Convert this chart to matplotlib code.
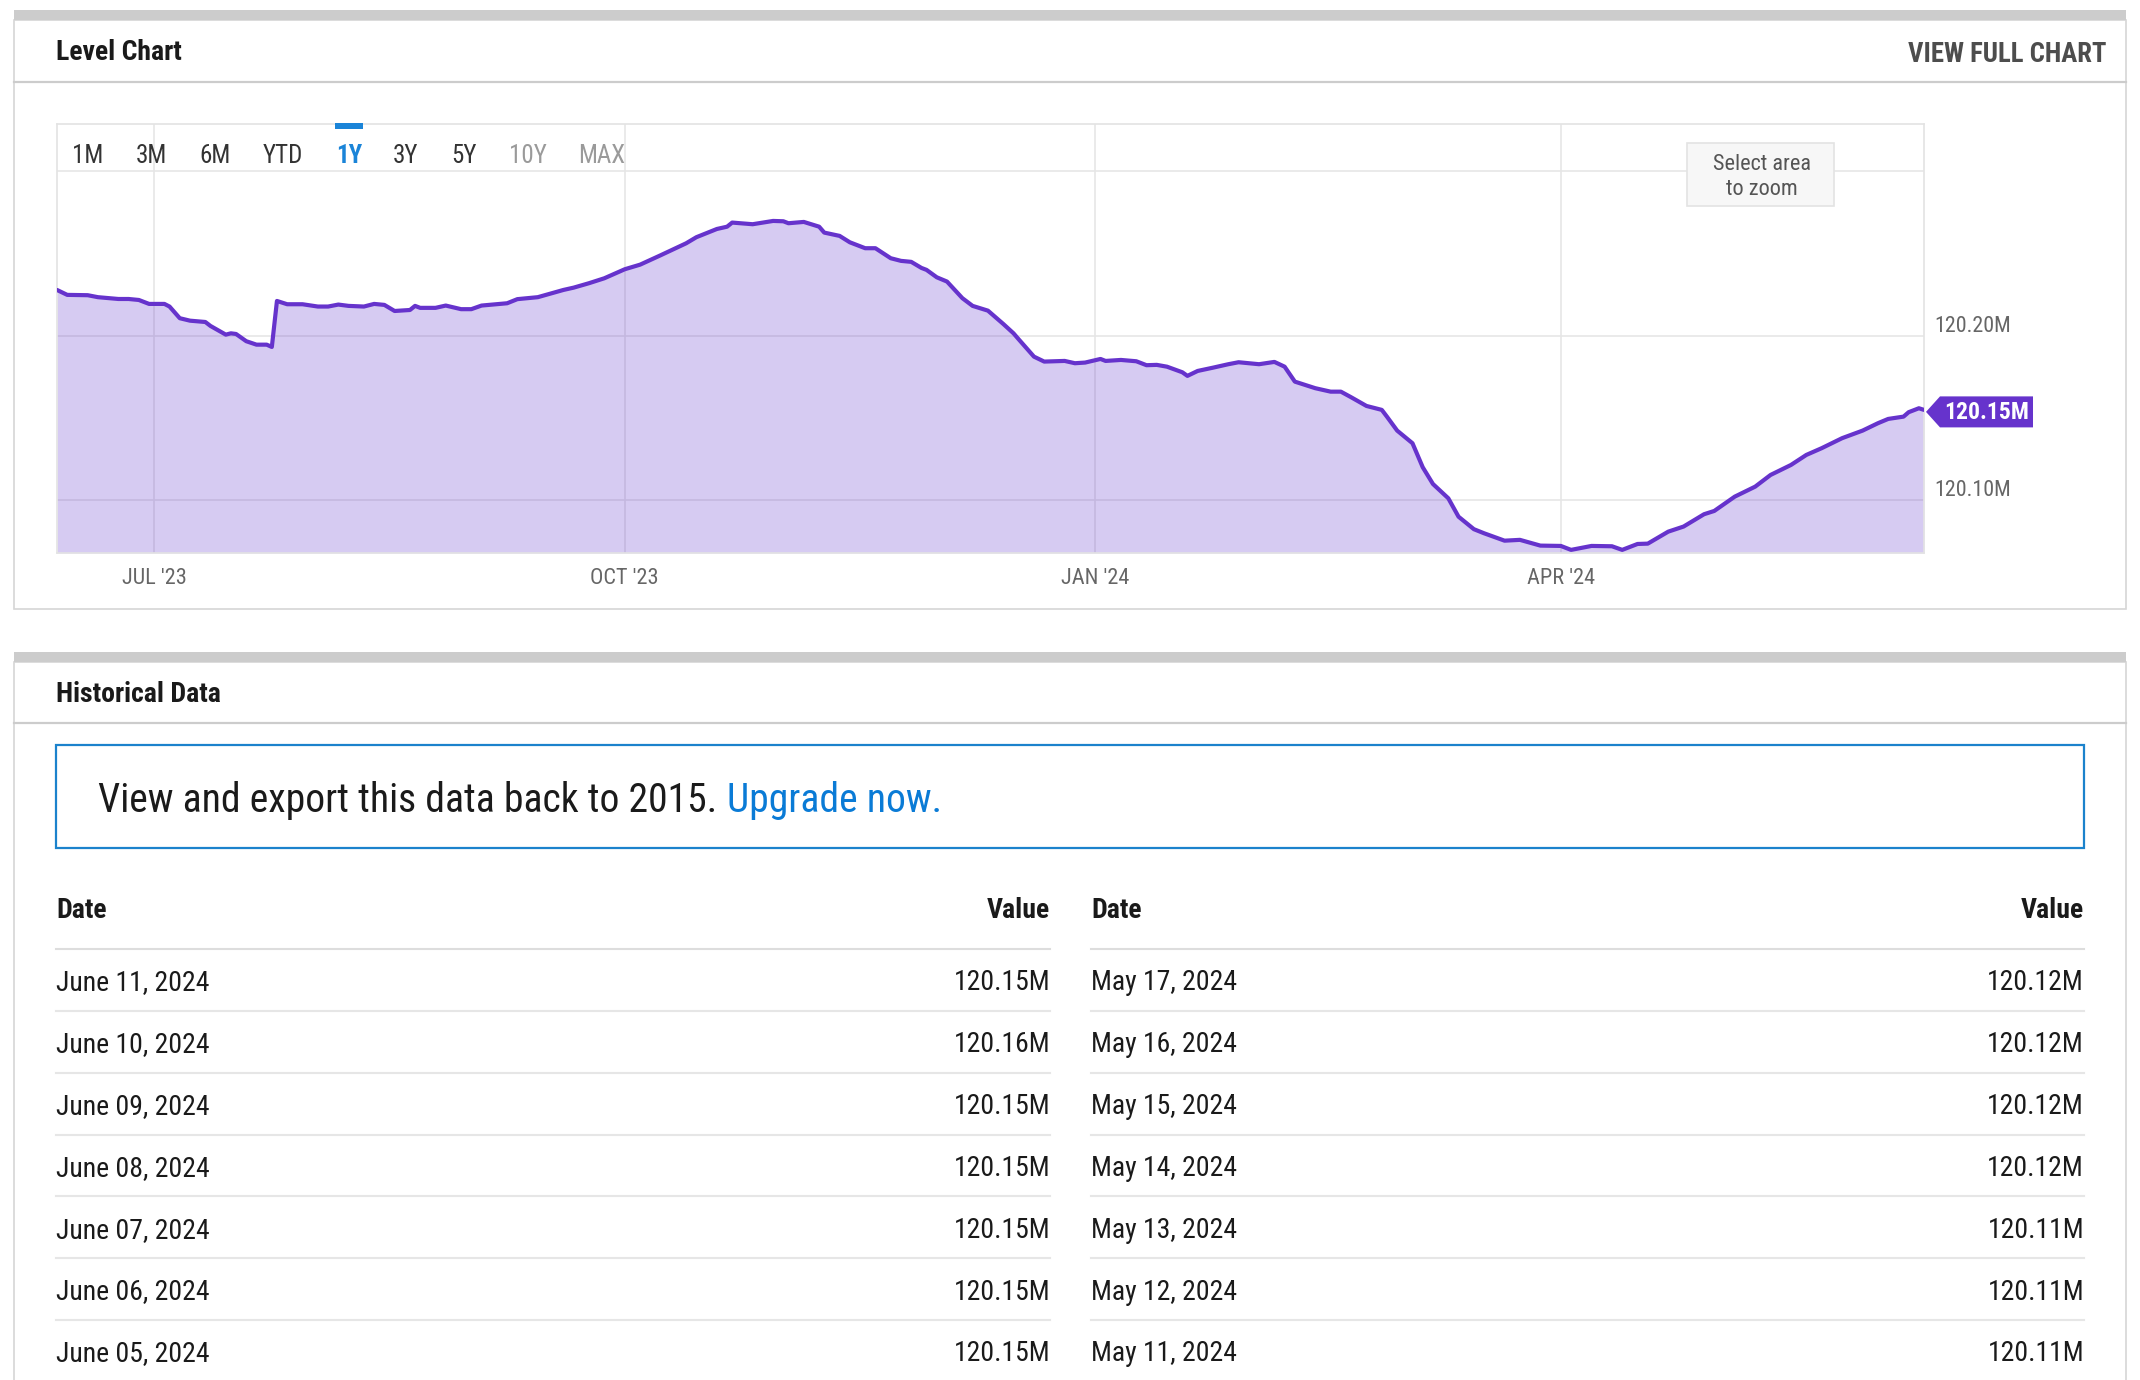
import matplotlib
matplotlib.use('Agg')
import matplotlib.pyplot as plt
import matplotlib.dates as mdates
from matplotlib import font_manager, transforms
from matplotlib.patches import Rectangle, Polygon
import pandas as pd

# level chart data (millions)
level_dates = [
    '2023-06-12', '2023-06-14', '2023-06-18', '2023-06-20', '2023-06-24', '2023-06-26', '2023-06-28', '2023-06-30',
    '2023-07-03', '2023-07-04', '2023-07-06', '2023-07-08', '2023-07-11', '2023-07-12', '2023-07-15', '2023-07-16',
    '2023-07-17', '2023-07-19', '2023-07-21', '2023-07-23', '2023-07-24', '2023-07-25', '2023-07-27', '2023-07-30',
    '2023-08-02', '2023-08-04', '2023-08-06', '2023-08-08', '2023-08-11', '2023-08-13', '2023-08-15', '2023-08-17',
    '2023-08-20', '2023-08-21', '2023-08-22', '2023-08-25', '2023-08-27', '2023-08-30',
    '2023-09-01', '2023-09-03', '2023-09-08', '2023-09-10', '2023-09-14', '2023-09-19', '2023-09-21', '2023-09-24',
    '2023-09-27',
    '2023-10-01', '2023-10-04', '2023-10-08', '2023-10-13', '2023-10-15', '2023-10-19', '2023-10-21', '2023-10-22',
    '2023-10-26', '2023-10-30',
    '2023-11-01', '2023-11-02', '2023-11-05', '2023-11-08', '2023-11-09', '2023-11-12', '2023-11-14', '2023-11-17',
    '2023-11-19', '2023-11-22', '2023-11-24', '2023-11-26', '2023-11-28', '2023-11-29',
    '2023-12-01', '2023-12-03', '2023-12-06', '2023-12-08', '2023-12-11', '2023-12-14', '2023-12-16', '2023-12-17',
    '2023-12-20', '2023-12-22', '2023-12-26', '2023-12-28', '2023-12-30',
    '2024-01-02', '2024-01-03', '2024-01-06', '2024-01-09', '2024-01-11', '2024-01-13', '2024-01-15', '2024-01-18',
    '2024-01-19', '2024-01-21', '2024-01-24', '2024-01-27', '2024-01-29',
    '2024-02-02', '2024-02-05', '2024-02-07', '2024-02-09', '2024-02-13', '2024-02-16', '2024-02-18', '2024-02-20',
    '2024-02-23', '2024-02-26', '2024-02-27', '2024-02-29',
    '2024-03-03', '2024-03-05', '2024-03-07', '2024-03-10', '2024-03-12', '2024-03-15', '2024-03-17', '2024-03-21',
    '2024-03-24', '2024-03-28',
    '2024-04-01', '2024-04-03', '2024-04-07', '2024-04-11', '2024-04-13', '2024-04-16', '2024-04-18', '2024-04-22',
    '2024-04-25', '2024-04-29',
    '2024-05-01', '2024-05-05', '2024-05-09', '2024-05-12', '2024-05-16', '2024-05-19', '2024-05-22', '2024-05-26',
    '2024-05-30',
    '2024-06-02', '2024-06-04', '2024-06-07', '2024-06-08', '2024-06-10', '2024-06-11',
]
level_vals = [
    120.2278, 120.2248, 120.2246, 120.2234, 120.2223, 120.2223, 120.2217, 120.2193,
    120.2193, 120.2177, 120.2106, 120.2091, 120.2083, 120.2059, 120.2006, 120.2014,
    120.2010, 120.1966, 120.1945, 120.1945, 120.1931, 120.2211, 120.2191, 120.2191,
    120.2177, 120.2177, 120.2189, 120.2181, 120.2177, 120.2193, 120.2187, 120.2150,
    120.2156, 120.2181, 120.2169, 120.2169, 120.2183, 120.2161,
    120.2161, 120.2183, 120.2197, 120.2222, 120.2234, 120.2278, 120.2292, 120.2319,
    120.2349,
    120.2404, 120.2432, 120.2489, 120.2562, 120.2599, 120.2649, 120.2663, 120.2688,
    120.2678, 120.2698,
    120.2696, 120.2684, 120.2692, 120.2663, 120.2627, 120.2607, 120.2568, 120.2532,
    120.2532, 120.2471, 120.2455, 120.2449, 120.2412, 120.2400,
    120.2355, 120.2329, 120.2228, 120.2181, 120.2152, 120.2071, 120.2014, 120.1978,
    120.1872, 120.1842, 120.1846, 120.1832, 120.1836,
    120.1858, 120.1846, 120.1852, 120.1844, 120.1820, 120.1822, 120.1811, 120.1777,
    120.1755, 120.1785, 120.1805, 120.1826, 120.1838,
    120.1826, 120.1840, 120.1811, 120.1720, 120.1680, 120.1659, 120.1659, 120.1625,
    120.1572, 120.1548, 120.1507, 120.1422,
    120.1345, 120.1199, 120.1097, 120.1010, 120.0898, 120.0822, 120.0797, 120.0752,
    120.0757, 120.0722,
    120.0720, 120.0696, 120.0720, 120.0718, 120.0696, 120.0732, 120.0734, 120.0807,
    120.0838, 120.0913,
    120.0933, 120.1020, 120.1081, 120.1152, 120.1213, 120.1274, 120.1315, 120.1376,
    120.1422,
    120.1467, 120.1493, 120.1507, 120.1534, 120.1558, 120.1548,
]

month_ticks = ['2023-07-01', '2023-10-01', '2024-01-01', '2024-04-01']
month_labels = ["JUL '23", "OCT '23", "JAN '24", "APR '24"]
grid_vals = [120.10, 120.20, 120.30]
axis_vals = [120.10, 120.20]
axis_labels = ['120.10M', '120.20M']

range_labels = ['1M', '3M', '6M', 'YTD', '1Y', '3Y', '5Y', '10Y', 'MAX']
active_range = '1Y'
disabled_ranges = ['10Y', 'MAX']

# historical table
left_dates = ['June 11, 2024', 'June 10, 2024', 'June 09, 2024', 'June 08, 2024',
              'June 07, 2024', 'June 06, 2024', 'June 05, 2024']
left_vals = ['120.15M', '120.16M', '120.15M', '120.15M', '120.15M', '120.15M', '120.15M']
right_dates = ['May 17, 2024', 'May 16, 2024', 'May 15, 2024', 'May 14, 2024',
               'May 13, 2024', 'May 12, 2024', 'May 11, 2024']
right_vals = ['120.12M', '120.12M', '120.12M', '120.12M', '120.11M', '120.11M', '120.11M']

names = {f.name for f in font_manager.fontManager.ttflist}
FONT = next((n for n in ['Roboto Condensed', 'Liberation Sans Narrow', 'Roboto'] if n in names), 'DejaVu Sans')
plt.rcParams['font.family'] = [FONT, 'DejaVu Sans']

W, H = 2140, 1380
PURPLE = '#6633cc'
BLUE = '#0a7bd6'
INK = '#1a1a1a'
fig = plt.figure(figsize=(W / 100, H / 100), dpi=100, facecolor='white')


def px_axes(z):
    a = fig.add_axes([0, 0, 1, 1], zorder=z)
    a.set_xlim(0, W)
    a.set_ylim(H, 0)
    a.axis('off')
    return a


bg = px_axes(0)

# panels
for top_y, sep_y, bottom in [(10, 82, 609), (652, 723, 1500)]:
    bg.add_patch(Rectangle((14, top_y + 10), 2112, bottom - top_y - 10, fc='white', ec='#d6d6d6', lw=1.2))
    bg.add_patch(Rectangle((14, top_y), 2112, 10, fc='#cccccc', ec='none'))
    bg.plot([14, 2126], [sep_y, sep_y], color='#cccccc', lw=1.6)

bg.text(56, 53, 'Level Chart', fontsize=20, fontweight='bold', color=INK, va='center')
bg.text(2106, 54, 'VIEW FULL CHART', fontsize=19.3, fontweight='bold', color='#4d4d4d', va='center', ha='right')
bg.text(56, 695, 'Historical Data', fontsize=20, fontweight='bold', color=INK, va='center')

# chart
ax = fig.add_axes([57 / W, 1 - 553 / H, 1867 / W, 429 / H], zorder=2)
d = pd.to_datetime(level_dates)
Y_LO, Y_HI = 120.0677, 120.3288
ax.fill_between(d, level_vals, Y_LO, color='#6b3fd0', alpha=0.27, lw=0, zorder=1)
ax.plot(d, level_vals, color=PURPLE, lw=3.0, zorder=3, solid_joinstyle='round', solid_capstyle='round')
ax.set_xlim(d[0], d[-1])
ax.set_ylim(Y_LO, Y_HI)
ax.set_xticks(pd.to_datetime(month_ticks))
ax.set_xticklabels(month_labels, fontsize=16, color='#666666')
ax.set_yticks(grid_vals)
ax.tick_params(axis='x', length=0, pad=11)
ax.tick_params(axis='y', length=0, labelleft=False, labelright=False)
ax.grid(True, color='#e6e6e6', lw=1.2)
ax.set_axisbelow(True)
for s in ax.spines.values():
    s.set_color('#e3e3e3')
    s.set_linewidth(1.2)

ylab_tr = transforms.blended_transform_factory(ax.transAxes, ax.transData) + \
    transforms.ScaledTranslation(0.10, 0.095, fig.dpi_scale_trans)
for v, s in zip(axis_vals, axis_labels):
    ax.text(1, v, s, transform=ylab_tr, fontsize=15.8, color='#666666', va='center', ha='left', clip_on=False)

top = px_axes(5)

# range selector
range_x = [88, 151, 215, 283, 349, 405, 464, 528, 602]
for lbl, x in zip(range_labels, range_x):
    if lbl == active_range:
        col, wt = '#1a84d8', 'bold'
        top.add_patch(Rectangle((x - 14, 123), 28, 6, fc='#1a84d8', ec='none'))
    elif lbl in disabled_ranges:
        col, wt = '#9a9a9a', 'normal'
    else:
        col, wt = '#333333', 'normal'
    top.text(x, 156, lbl, fontsize=18, color=col, fontweight=wt, ha='center', va='center')

top.add_patch(Rectangle((1687, 143), 147, 63, fc='#f7f7f7', ec='#e3e3e3', lw=1.2))
top.text(1762, 177, 'Select area\nto zoom', fontsize=16, color='#555555', ha='center', va='center', linespacing=1.25)

# last value flag, placed from the data transform
fig.canvas.draw()
ex, ey = ax.transData.transform((mdates.date2num(d[-1]), level_vals[-1]))
ey = H - ey + 2
flag = Polygon([(ex + 2, ey), (ex + 16, ey - 15.5), (ex + 109, ey - 15.5), (ex + 109, ey + 15.5), (ex + 16, ey + 15.5)],
               closed=True, fc=PURPLE, ec='none')
top.add_patch(flag)
top.text(ex + 63, ey + 1, f'{level_vals[-1]:.2f}M', fontsize=17, fontweight='bold', color='white',
         ha='center', va='center')

# upgrade box
bg.add_patch(Rectangle((56, 745), 2028, 103, fc='white', ec='#1b82cc', lw=1.6))
t1 = bg.text(98, 800, 'View and export this data back to 2015.', fontsize=28.5, color=INK, va='center')
bg.annotate('Upgrade now.', xy=(1, 0.5), xycoords=t1, xytext=(7, 0), textcoords='offset points',
            fontsize=28.5, color=BLUE, va='center', ha='left')

# table
cols = [(56, 1050, left_dates, left_vals), (1091, 2084, right_dates, right_vals)]
for x0, x1, dates, vals in cols:
    bg.text(x0, 911, 'Date', fontsize=20, fontweight='bold', color=INK, va='center')
    bg.text(x1, 911, 'Value', fontsize=20, fontweight='bold', color=INK, va='center', ha='right')
    bg.plot([x0, x1], [949, 949], color='#dddddd', lw=1.5)
    for i, (dt, vl) in enumerate(zip(dates, vals)):
        y = 980 + i * 61.8
        bg.text(x0, y + 3, dt, fontsize=20, color=INK, va='center')
        bg.text(x1, y + 3, vl, fontsize=20, color=INK, va='center', ha='right')
        if i < len(dates) - 1:
            bg.plot([x0, x1], [y + 31, y + 31], color='#e6e6e6', lw=1.5)

fig.savefig('out.png', dpi=100, facecolor='white')
